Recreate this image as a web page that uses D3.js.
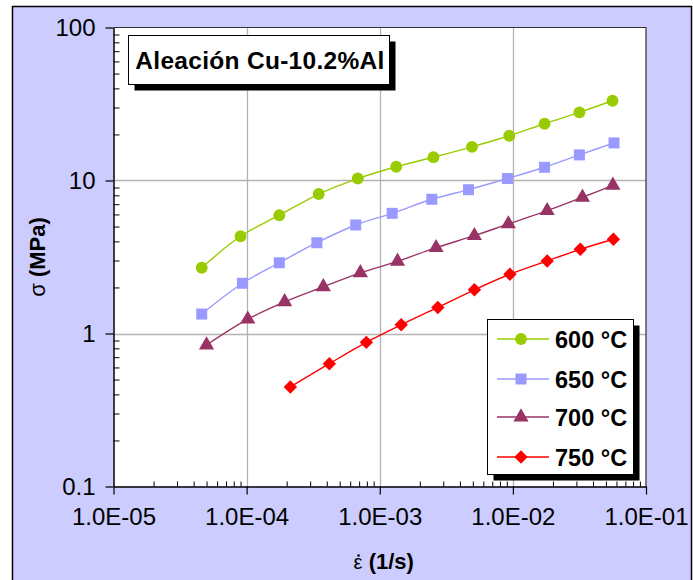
<!DOCTYPE html>
<html>
<head>
<meta charset="utf-8">
<script src="https://cdn.jsdelivr.net/npm/d3@7"></script>
<style>
  html, body { margin: 0; padding: 0; background: #ffffff; }
  svg { display: block; font-family: "Liberation Sans", Arial, sans-serif; }
</style>
</head>
<body>
<svg id="chart" width="693" height="580"></svg>
<script>
// Strain rate (1/s) and flow stress (MPa) for each test temperature
const rate600 = [4.6e-5, 9.0e-5, 1.76e-4, 3.48e-4, 6.84e-4, 1.33e-3, 2.53e-3, 4.93e-3, 9.4e-3, 1.73e-2, 3.16e-2, 5.6e-2];
const stress600 = [2.69, 4.32, 5.93, 8.16, 10.3, 12.3, 14.2, 16.6, 19.6, 23.5, 27.9, 33.2];

const rate650 = [4.6e-5, 9.3e-5, 1.76e-4, 3.37e-4, 6.6e-4, 1.24e-3, 2.46e-3, 4.64e-3, 9.1e-3, 1.73e-2, 3.16e-2, 5.75e-2];
const stress650 = [1.34, 2.13, 2.90, 3.92, 5.12, 6.10, 7.54, 8.71, 10.3, 12.2, 14.7, 17.6];

const rate700 = [5.0e-5, 1.02e-4, 1.93e-4, 3.77e-4, 7.15e-4, 1.36e-3, 2.65e-3, 5.14e-3, 9.25e-3, 1.81e-2, 3.33e-2, 5.64e-2];
const stress700 = [0.841, 1.24, 1.61, 2.02, 2.49, 2.96, 3.64, 4.36, 5.20, 6.35, 7.77, 9.30];

const rate750 = [2.13e-4, 4.18e-4, 7.93e-4, 1.45e-3, 2.73e-3, 5.14e-3, 9.5e-3, 1.81e-2, 3.21e-2, 5.69e-2];
const stress750 = [0.447, 0.635, 0.875, 1.14, 1.48, 1.93, 2.44, 2.98, 3.55, 4.13];

const seriesNames = ["600 °C", "650 °C", "700 °C", "750 °C"];
const xTicks = [1e-5, 1e-4, 1e-3, 1e-2, 1e-1];
const xTickLabels = ["1.0E-05", "1.0E-04", "1.0E-03", "1.0E-02", "1.0E-01"];
const yTicks = [0.1, 1, 10, 100];
const yTickLabels = ["0.1", "1", "10", "100"];
const titleText = "Aleación Cu-10.2%Al";

// Diamond drawn as a square turned 45 degrees (equal width and height)
const symbolSquareDiamond = {
  draw(context, size) {
    const r = Math.sqrt(size) / Math.SQRT2;
    context.moveTo(0, -r);
    context.lineTo(r, 0);
    context.lineTo(0, r);
    context.lineTo(-r, 0);
    context.closePath();
  }
};

const series = [
  { name: seriesNames[0], x: rate600, y: stress600, color: "#99cc00", symbol: d3.symbolCircle, size: 110 },
  { name: seriesNames[1], x: rate650, y: stress650, color: "#9999ff", symbol: d3.symbolSquare, size: 121 },
  { name: seriesNames[2], x: rate700, y: stress700, color: "#993366", symbol: d3.symbolTriangle, size: 100 },
  { name: seriesNames[3], x: rate750, y: stress750, color: "#ff0000", symbol: symbolSquareDiamond, size: 90 }
];

const svg = d3.select("#chart");

// Chart background and frame
svg.append("rect")
  .attr("x", 12.5).attr("y", 6.5).attr("width", 679).attr("height", 590)
  .attr("fill", "#ccccff").attr("stroke", "#000").attr("stroke-width", 1.5);

const plot = { left: 113.5, right: 646, top: 27.5, bottom: 486.5 };

const x = d3.scaleLog().domain([1e-5, 1e-1]).range([plot.left, plot.right]);
const y = d3.scaleLog().domain([0.1, 100]).range([plot.bottom, plot.top]);

svg.append("rect")
  .attr("x", plot.left).attr("y", plot.top)
  .attr("width", plot.right - plot.left).attr("height", plot.bottom - plot.top)
  .attr("fill", "#ffffff");

// Major gridlines
const grid = svg.append("g").attr("stroke", "#b3b3b3").attr("stroke-width", 1.3);
grid.selectAll("line.gx").data(xTicks.slice(1, -1)).join("line")
  .attr("x1", d => Math.round(x(d)) + 0.5).attr("x2", d => Math.round(x(d)) + 0.5)
  .attr("y1", plot.top).attr("y2", plot.bottom);
grid.selectAll("line.gy").data(yTicks.slice(1, -1)).join("line")
  .attr("x1", plot.left).attr("x2", plot.right)
  .attr("y1", d => Math.round(y(d)) + 0.5).attr("y2", d => Math.round(y(d)) + 0.5);

// Plot border (top and right)
svg.append("path")
  .attr("d", `M${plot.left},${plot.top}H${plot.right}V${plot.bottom}`)
  .attr("fill", "none").attr("stroke", "#333").attr("stroke-width", 1.2);

// Minor tick values for each decade
function minors(lo, hi) {
  const out = [];
  for (let e = lo; e < hi; e++) for (let m = 2; m <= 9; m++) out.push(m * Math.pow(10, e));
  return out;
}

// X axis: minor ticks inside, major ticks outside
svg.append("g").attr("transform", `translate(0,${plot.bottom})`)
  .call(d3.axisBottom(x).tickValues(minors(-5, -1)).tickSize(-5).tickFormat(""))
  .call(g => g.select(".domain").remove())
  .call(g => g.selectAll("line").attr("stroke", "#000"));
svg.append("g").attr("transform", `translate(0,${plot.bottom})`)
  .call(d3.axisBottom(x).tickValues(xTicks).tickSize(8).tickSizeOuter(0).tickPadding(13)
    .tickFormat((d, i) => xTickLabels[i]))
  .call(g => g.select(".domain").attr("stroke", "#000").attr("stroke-width", 1.5))
  .call(g => g.selectAll("line").attr("stroke", "#000").attr("stroke-width", 1.2))
  .call(g => g.selectAll("text").attr("font-size", 24).attr("fill", "#000")
    .attr("font-family", "'Liberation Sans', Arial, sans-serif"));

// Y axis
svg.append("g").attr("transform", `translate(${plot.left},0)`)
  .call(d3.axisLeft(y).tickValues(minors(-1, 2)).tickSize(-6).tickFormat(""))
  .call(g => g.select(".domain").remove())
  .call(g => g.selectAll("line").attr("stroke", "#000"));
svg.append("g").attr("transform", `translate(${plot.left},0)`)
  .call(d3.axisLeft(y).tickValues(yTicks).tickSize(8).tickSizeOuter(0).tickPadding(10)
    .tickFormat((d, i) => yTickLabels[i]))
  .call(g => g.select(".domain").attr("stroke", "#000").attr("stroke-width", 1.5))
  .call(g => g.selectAll("line").attr("stroke", "#000").attr("stroke-width", 1.2))
  .call(g => g.selectAll("text").attr("font-size", 24).attr("fill", "#000")
    .attr("font-family", "'Liberation Sans', Arial, sans-serif"));

// Axis titles
const yTitle = svg.append("text")
  .attr("transform", `translate(45,${(plot.top + plot.bottom) / 2}) rotate(-90)`)
  .attr("text-anchor", "middle").attr("font-size", 22).attr("fill", "#000");
yTitle.append("tspan").text("σ ");
yTitle.append("tspan").attr("font-weight", "bold").text("(MPa)");

// Strain-rate symbol: epsilon with a dot placed above it
const xTitleX = (plot.left + plot.right) / 2 + 4;
const xTitle = svg.append("text")
  .attr("x", xTitleX).attr("y", 569)
  .attr("text-anchor", "middle").attr("font-size", 22).attr("fill", "#000");
const epsSpan = xTitle.append("tspan").attr("font-size", 20).text("\u03B5");
xTitle.append("tspan").attr("font-weight", "bold").text(" (1/s)");
const epsBox = epsSpan.node().getBBox();
svg.append("circle")
  .attr("cx", epsBox.x + epsBox.width * 0.55).attr("cy", 555.5)
  .attr("r", 1.3).attr("fill", "#000");

// Data series
const line = d3.line().curve(d3.curveCatmullRom.alpha(0.5));
const marks = svg.append("g");
series.forEach(s => {
  const pts = s.x.map((v, i) => [x(v), y(s.y[i])]);
  marks.append("path").attr("d", line(pts))
    .attr("fill", "none").attr("stroke", s.color).attr("stroke-width", 1.4);
  marks.append("g").selectAll("path").data(pts).join("path")
    .attr("transform", d => `translate(${d[0]},${d[1]})`)
    .attr("d", d3.symbol(s.symbol, s.size))
    .attr("fill", s.color);
});

// Title box with drop shadow
const tb = { x: 128.5, y: 35.5, w: 261, h: 49 };
svg.append("rect").attr("x", tb.x + 6).attr("y", tb.y + 6).attr("width", tb.w).attr("height", tb.h).attr("fill", "#000");
svg.append("rect").attr("x", tb.x).attr("y", tb.y).attr("width", tb.w).attr("height", tb.h)
  .attr("fill", "#fff").attr("stroke", "#000").attr("stroke-width", 1);
svg.append("text").attr("x", tb.x + tb.w / 2 + 1).attr("y", tb.y + 33)
  .attr("text-anchor", "middle").attr("font-size", 24.5).attr("font-weight", "bold")
  .attr("letter-spacing", 0.3).attr("fill", "#000").text(titleText);

// Legend with drop shadow
const lg = { x: 487.5, y: 319.5, w: 146, h: 155 };
svg.append("rect").attr("x", lg.x + 6).attr("y", lg.y + 6).attr("width", lg.w).attr("height", lg.h).attr("fill", "#000");
svg.append("rect").attr("x", lg.x).attr("y", lg.y).attr("width", lg.w).attr("height", lg.h)
  .attr("fill", "#fff").attr("stroke", "#000").attr("stroke-width", 1);
const rowY = [339, 379, 417, 457];
series.forEach((s, i) => {
  const g = svg.append("g").attr("transform", `translate(0,${rowY[i]})`);
  g.append("line").attr("x1", 497).attr("x2", 549).attr("y1", 0).attr("y2", 0)
    .attr("stroke", s.color).attr("stroke-width", 1.4);
  g.append("path").attr("transform", "translate(521,0)")
    .attr("d", d3.symbol(s.symbol, s.size)).attr("fill", s.color);
  g.append("text").attr("x", 555).attr("y", 8.5)
    .attr("font-size", 23.5).attr("font-weight", "bold").attr("fill", "#000").text(s.name);
});
</script>
</body>
</html>
